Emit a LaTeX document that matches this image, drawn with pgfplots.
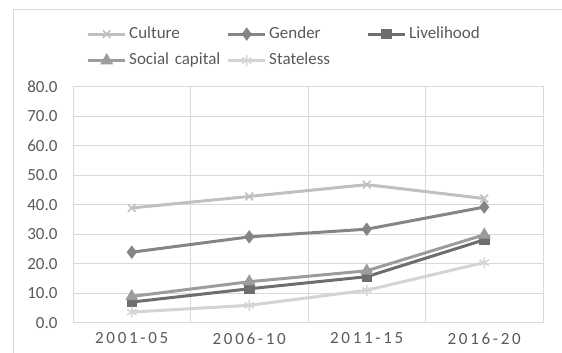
\documentclass[border=0pt]{standalone}
\usepackage{fontspec}
\setmainfont{Carlito}
\usepackage{pgfplots}
\usepackage{pgfplotstable}
\pgfplotsset{compat=1.18}
\definecolor{txt}{HTML}{595959}
\definecolor{gridc}{HTML}{D9D9D9}
\definecolor{cCulture}{HTML}{C0C0C0}
\definecolor{cGender}{HTML}{858585}
\definecolor{cLive}{HTML}{6E6E6E}
\definecolor{cSocial}{HTML}{9C9C9C}
\definecolor{cState}{HTML}{D4D4D4}

% Mean scores per period for each theme
\pgfplotstableread{
x Culture Gender Livelihood Social Stateless
1 39.0 24.0 7.1 9.0 3.7
2 42.9 29.2 11.6 14.0 6.0
3 46.9 31.8 15.7 17.7 11.1
4 42.2 39.3 28.2 29.9 20.5
}\themedata

\begin{document}
\begin{tikzpicture}[x=1pt,y=1pt]
\path[use as bounding box] (0,0) rectangle (562,353);
% chart frame
\draw[gridc, line width=1pt] (13,0) -- (13,343) -- (562,343);
\begin{axis}[
  at={(73pt,30pt)}, anchor=south west,
  scale only axis, width=470pt, height=236pt,
  xmin=0.5, xmax=4.5, ymin=0, ymax=80,
  ytick={0,10,...,80},
  xtick={1,2,3,4},
  xticklabels={2001-05,2006-10,2011-15,2016-20},
  extra x ticks={1.5,2.5,3.5},
  extra x tick labels={},
  extra x tick style={grid=major},
  major tick length=0pt,
  ymajorgrids,
  grid style={gridc, line width=1pt},
  axis line style={gridc, line width=1pt},
  /pgf/number format/.cd, fixed, fixed zerofill, precision=1, assume math mode=true,
  /pgfplots/.cd,
  yticklabel style={font=\fontsize{17}{20}\selectfont, color=txt, xshift=-12pt},
  xticklabel style={font=\fontsize{17}{20}\selectfont\addfontfeature{LetterSpace=16}, color=txt, yshift=-6pt},
  legend columns=3,
  legend cell align=left,
  legend style={at={(axis description cs:0.0277,1.259)}, anchor=north west,
    draw=none, fill=none, inner sep=0pt,
    font=\fontsize{17}{20}\selectfont, text=txt,
    nodes={inner sep=0pt, text height=12pt, text depth=4pt},
    /tikz/every odd column/.style={column sep=3pt},
    /tikz/every even column/.style={column sep=0pt},
    /tikz/every even column/.append style={nodes={text width=97pt}},
    row sep=10.5pt},
  legend image code/.code={\draw[mark repeat=2, mark phase=2, #1] plot coordinates {(0pt,0pt) (19pt,0pt) (37pt,0pt)};},
  every axis plot/.append style={line width=3pt, mark options={solid, line width=1.5pt}},
]
\addplot[cCulture, mark=x, mark size=5.5pt] table[x=x, y=Culture] {\themedata};
\addlegendentry{Culture}
\addplot[cGender, mark=diamond*, mark size=5.5pt] table[x=x, y=Gender] {\themedata};
\addlegendentry{Gender}
\addplot[cLive, mark=square*, mark size=4.5pt] table[x=x, y=Livelihood] {\themedata};
\addlegendentry{Livelihood}
\addplot[cSocial, mark=triangle*, mark size=6pt] table[x=x, y=Social] {\themedata};
\addlegendentry{Social capital}
\addplot[cState, mark=asterisk, mark size=5.5pt] table[x=x, y=Stateless] {\themedata};
\addlegendentry{Stateless}
\end{axis}
\end{tikzpicture}
\end{document}
